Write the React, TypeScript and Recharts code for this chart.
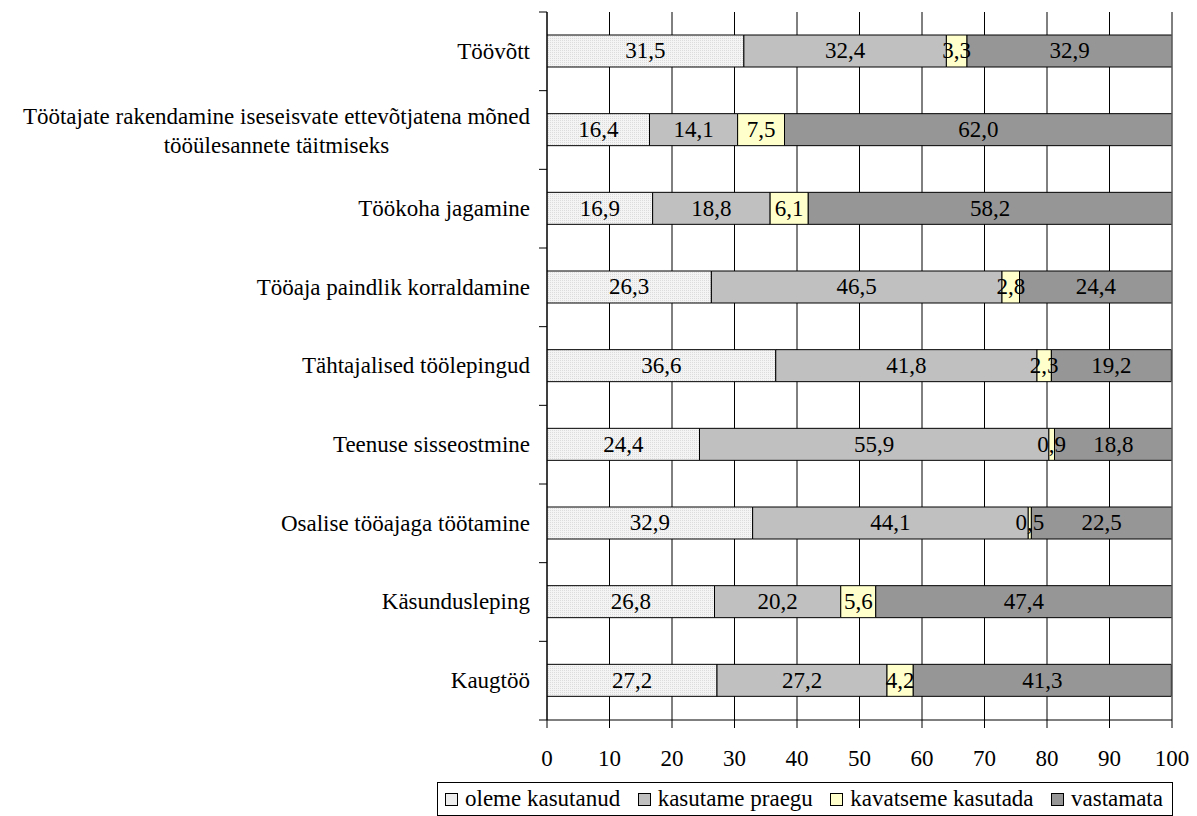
import { BarChart, Bar, XAxis, YAxis, CartesianGrid, LabelList, Legend, ReferenceLine } from 'recharts';

const categories = [
  'Töövõtt',
  'Töötajate rakendamine iseseisvate ettevõtjatena mõned tööülesannete täitmiseks',
  'Töökoha jagamine',
  'Tööaja paindlik korraldamine',
  'Tähtajalised töölepingud',
  'Teenuse sisseostmine',
  'Osalise tööajaga töötamine',
  'Käsundusleping',
  'Kaugtöö',
];

const olemeKasutanud = [31.5, 16.4, 16.9, 26.3, 36.6, 24.4, 32.9, 26.8, 27.2];
const kasutamePraegu = [32.4, 14.1, 18.8, 46.5, 41.8, 55.9, 44.1, 20.2, 27.2];
const kavatsemeKasutada = [3.3, 7.5, 6.1, 2.8, 2.3, 0.9, 0.5, 5.6, 4.2];
const vastamata = [32.9, 62.0, 58.2, 24.4, 19.2, 18.8, 22.5, 47.4, 41.3];

const xTicks = [0, 10, 20, 30, 40, 50, 60, 70, 80, 90, 100];

const series = [
  { key: 'oleme', name: 'oleme kasutanud', fill: 'url(#dots)', swatch: '#eeeeee' },
  { key: 'praegu', name: 'kasutame praegu', fill: '#c0c0c0', swatch: '#c0c0c0' },
  { key: 'kavatseme', name: 'kavatseme kasutada', fill: '#ffffcc', swatch: '#ffffcc' },
  { key: 'vastamata', name: 'vastamata', fill: '#969696', swatch: '#969696' },
];

const data = categories.map((name, i) => ({
  name,
  oleme: olemeKasutanud[i],
  praegu: kasutamePraegu[i],
  kavatseme: kavatsemeKasutada[i],
  vastamata: vastamata[i],
}));

const FONT =
  "'Times New Roman', Times, 'Liberation Serif', Tinos, 'Nimbus Roman', 'Nimbus Roman No9 L', FreeSerif, 'Noto Serif', 'DejaVu Serif', serif";
const FONT_SIZE = 23;

const CHART_W = 1189;
const CHART_H = 808;
const MARGIN = { top: 4, right: 25, bottom: 0, left: 0 };
const Y_AXIS_W = 539;
const X_AXIS_H = 62;
const LEGEND_H = 34;
const TICK_SIZE = 8;
const TICK_MARGIN = 9;
const LABEL_MAX = 525;

const PLOT_H = CHART_H - MARGIN.top - MARGIN.bottom - X_AXIS_H - LEGEND_H;
const BAND = PLOT_H / categories.length;

const fmt = (v: any) => Number(v).toFixed(1).replace('.', ',');

let ctx: CanvasRenderingContext2D | null = null;
function measure(text: string) {
  if (!ctx) {
    ctx = document.createElement('canvas').getContext('2d');
    if (ctx) ctx.font = `${FONT_SIZE}px ${FONT}`;
  }
  return ctx ? ctx.measureText(text).width : text.length * FONT_SIZE * 0.45;
}

function wrapLabel(text: string, maxW: number) {
  const words = text.split(' ');
  const lines: string[] = [];
  let cur = '';
  for (const w of words) {
    const next = cur ? cur + ' ' + w : w;
    if (cur && measure(next) > maxW) {
      lines.push(cur);
      cur = w;
    } else {
      cur = next;
    }
  }
  if (cur) lines.push(cur);
  return lines;
}

const textStyle = { fontFamily: FONT, fontSize: FONT_SIZE };

function CategoryTick(props: any) {
  const { x, y, payload, index } = props;
  const axisX = x + TICK_SIZE + TICK_MARGIN;
  const lines = wrapLabel(String(payload.value), LABEL_MAX);
  const isLast = index === categories.length - 1;
  let labels;
  if (lines.length === 1) {
    labels = (
      <text x={x} y={y} dy="0.32em" textAnchor="end" style={textStyle} fill="#000">
        {lines[0]}
      </text>
    );
  } else {
    // multi-line labels are centred on the widest line, right edge at the tick
    const widest = Math.max(...lines.map(measure));
    const cx = x - widest / 2;
    const lineH = 29;
    const first = y + 8 - ((lines.length - 1) * lineH) / 2;
    labels = lines.map((ln, i) => (
      <text key={i} x={cx} y={first + i * lineH} textAnchor="middle" style={textStyle} fill="#000">
        {ln}
      </text>
    ));
  }
  return (
    <g>
      <line x1={axisX - TICK_SIZE} x2={axisX} y1={y - BAND / 2} y2={y - BAND / 2} stroke="#000" />
      {isLast && <line x1={axisX - TICK_SIZE} x2={axisX} y1={y + BAND / 2} y2={y + BAND / 2} stroke="#000" />}
      {labels}
    </g>
  );
}

function XTick(props: any) {
  const { x, y, payload } = props;
  return (
    <text x={x} y={y} dy="0.71em" textAnchor="middle" style={textStyle} fill="#000">
      {payload.value}
    </text>
  );
}

function ValueLabel(props: any) {
  const { x, y, width, height, value } = props;
  return (
    <text x={x + width / 2} y={y + height / 2} dy="0.32em" textAnchor="middle" style={textStyle} fill="#000">
      {fmt(value)}
    </text>
  );
}

function LegendBox() {
  return (
    <div
      style={{
        height: LEGEND_H - 2,
        border: '1px solid #000',
        background: '#fff',
        display: 'flex',
        alignItems: 'center',
        justifyContent: 'space-between',
        paddingLeft: 7,
        paddingRight: 9,
        fontFamily: FONT,
        fontSize: FONT_SIZE,
        color: '#000',
        whiteSpace: 'nowrap',
      }}
    >
      {series.map((s) => (
        <span key={s.key} style={{ display: 'inline-flex', alignItems: 'center' }}>
          <span
            style={{
              display: 'inline-block',
              width: 11,
              height: 11,
              border: '1px solid #000',
              background: s.swatch,
              marginRight: 7,
            }}
          />
          {s.name}
        </span>
      ))}
    </div>
  );
}

export default function App() {
  return (
    <div style={{ fontFamily: FONT }}>
      <BarChart width={CHART_W} height={CHART_H} data={data} layout="vertical" margin={MARGIN} barSize={32}>
        <defs>
          <pattern id="dots" width="2" height="2" patternUnits="userSpaceOnUse">
            <rect width="2" height="2" fill="#f4f4f4" />
            <rect width="1" height="1" fill="#dcdcdc" />
          </pattern>
        </defs>
        <CartesianGrid horizontal={false} stroke="#000" />
        <XAxis
          type="number"
          domain={[0, 100]}
          allowDataOverflow
          ticks={xTicks}
          interval={0}
          height={X_AXIS_H}
          tickSize={TICK_SIZE}
          tickMargin={22}
          axisLine={{ stroke: '#000' }}
          tickLine={{ stroke: '#000' }}
          tick={<XTick />}
        />
        <XAxis
          xAxisId="top"
          orientation="top"
          type="number"
          domain={[0, 100]}
          height={0}
          tick={false}
          tickLine={false}
          axisLine={{ stroke: '#808080' }}
        />
        <YAxis
          type="category"
          dataKey="name"
          width={Y_AXIS_W}
          interval={0}
          tickSize={TICK_SIZE}
          tickMargin={TICK_MARGIN}
          tickLine={false}
          axisLine={{ stroke: '#000' }}
          tick={<CategoryTick />}
        />
        <ReferenceLine x={100} stroke="#808080" />
        <Legend
          verticalAlign="bottom"
          content={<LegendBox />}
          wrapperStyle={{ left: 429, width: 736, height: LEGEND_H }}
        />
        {series.map((s) => (
          <Bar
            key={s.key}
            dataKey={s.key}
            name={s.name}
            stackId="a"
            fill={s.fill}
            stroke="#000"
            strokeWidth={1}
            isAnimationActive={false}
          >
            <LabelList dataKey={s.key} content={<ValueLabel />} />
          </Bar>
        ))}
      </BarChart>
    </div>
  );
}
